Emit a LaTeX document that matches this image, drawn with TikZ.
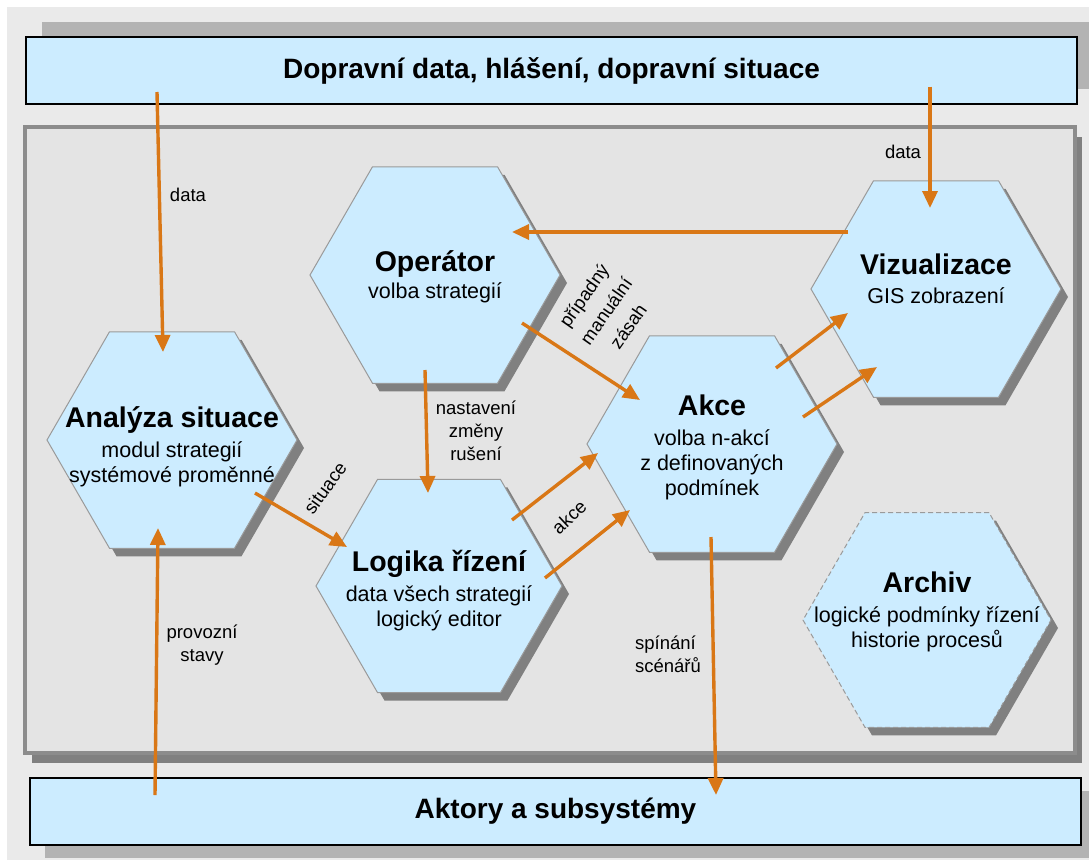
\documentclass[tikz,border=0pt]{standalone}
\usepackage{fontspec}
\setmainfont{Liberation Sans}
\usetikzlibrary{shapes.geometric,arrows.meta,shadows,calc}
\definecolor{hexblue}{HTML}{CCECFF}
\definecolor{arrowor}{HTML}{D97716}
\definecolor{bglight}{HTML}{EAEAEA}
\definecolor{panelfill}{HTML}{E4E4E4}
\definecolor{panelline}{HTML}{8C8C8C}
\definecolor{darkshadow}{HTML}{808080}
\definecolor{lightshadow}{HTML}{B3B3B3}
\definecolor{hexline}{HTML}{9A9A9A}
\newcommand\hextitle[1]{{\fontsize{28.5}{30}\selectfont\bfseries #1}}
\begin{document}
\begin{tikzpicture}[x=1pt,y=-1pt,
  hexagon/.style={regular polygon, regular polygon sides=6, minimum size=250pt,
    inner sep=0pt, fill=hexblue, draw=hexline, line width=1pt,
    drop shadow={shadow xshift=7pt, shadow yshift=-8pt, fill=darkshadow, opacity=1}},
  hextext/.style={align=center, font=\fontsize{21.5}{25}\selectfont, inner sep=0pt},
  bigbox/.style={rectangle, minimum width=1051pt, minimum height=67pt, inner sep=0pt,
    fill=hexblue, draw=black, line width=1.2pt, font=\fontsize{28}{34}\selectfont\bfseries},
  conn/.style={draw=arrowor, line width=3.4pt, -{Triangle[length=17pt,width=15pt]}},
  elabel/.style={font=\fontsize{18.5}{23}\selectfont, align=center, inner sep=0pt}]
\useasboundingbox (0,0) rectangle (1089,863);
\fill[white] (0,0) rectangle (1089,863);
\fill[bglight] (7,7) rectangle (1089,860);

% panel
\node[rectangle, minimum width=1050pt, minimum height=626pt, inner sep=0pt,
  fill=panelfill, draw=panelline, line width=4pt,
  drop shadow={shadow xshift=7pt, shadow yshift=-10pt, fill=darkshadow, opacity=1}]
  (panel) at (550,440) {};

% top and bottom boxes
\node[bigbox, drop shadow={shadow xshift=16pt, shadow yshift=15pt, fill=lightshadow, opacity=1}]
  (topbox) at (551.5,70.5) {Dopravní data, hlášení, dopravní situace};
\node[bigbox, drop shadow={shadow xshift=15pt, shadow yshift=-13pt, fill=lightshadow, opacity=1}]
  (botbox) at (555.5,811.5) {Aktory a subsystémy};

% hexagons
\node[hexagon] (ana) at (172,440) {};
\node[hexagon] (op) at (435,275) {};
\node[hexagon, minimum size=246pt] (log) at (439,586) {};
\node[hexagon] (akce) at (712,444) {};
\node[hexagon] (viz) at (936,289) {};
\node[hexagon, minimum size=248pt, dash pattern=on 5pt off 3pt] (arch) at (927,620) {};

% hexagon texts
\node[hextext] (anaT) at ($(ana.center)+(0,7)$) {\hextitle{Analýza situace}\\[5pt] modul strategií\\ systémové proměnné};
\node[hextext] (opT) at ($(op.center)+(0,2)$) {\hextitle{Operátor}\\[2pt] volba strategií};
\node[hextext] (logT) at ($(log.center)+(0,5)$) {\hextitle{Logika řízení}\\[5pt] data všech strategií\\ logický editor};
\node[hextext] (akceT) at ($(akce.center)+(0,3)$) {\hextitle{Akce}\\[5pt] volba n-akcí\\ z definovaných\\ podmínek};
\node[hextext] (vizT) at ($(viz.center)+(0,-10)$) {\hextitle{Vizualizace}\\[4pt] GIS zobrazení};
\node[hextext] (archT) at ($(arch.center)+(0,-8)$) {\hextitle{Archiv}\\[5pt] logické podmínky řízení\\ historie procesů};

% connectors
\draw[conn] ($(topbox.center)+(-394.5,21.5)$) -- ($(ana.center)+(-9,-88)$);
\draw[conn] ($(topbox.center)+(378.5,16)$) -- ($(viz.center)+(-6,-81)$);
\draw[conn] ($(viz.center)+(-88,-57)$) -- ($(op.center)+(77,-43)$);
\draw[conn] ($(op.center)+(87,48)$) -- ($(akce.center)+(-72,-44)$);
\draw[conn] ($(op.center)+(-10,95)$) -- ($(log.center)+(-11,-93)$);
\draw[conn] ($(ana.center)+(83,53)$) -- ($(log.center)+(-92,-39)$);
\draw[conn] ($(log.center)+(73,-66)$) -- ($(akce.center)+(-114,9)$);
\draw[conn] ($(log.center)+(106,-8)$) -- ($(akce.center)+(-82,66)$);
\draw[conn] ($(akce.center)+(64,-76)$) -- ($(viz.center)+(-88,24)$);
\draw[conn] ($(akce.center)+(91,-27)$) -- ($(viz.center)+(-59,78)$);
\draw[conn] ($(akce.center)+(-1,93)$) -- ($(botbox.center)+(160.5,-16.5)$);
\draw[conn] ($(botbox.center)+(-400.5,-16.5)$) -- ($(ana.center)+(-14,88)$);

% connector labels
\node[elabel] (lData1) at (188,195) {data};
\node[elabel] (lData2) at (903,152) {data};
\node[elabel] (lNast) at (476,431) {nastavení\\ změny\\ rušení};
\node[elabel] (lProv) at (202,645) {provozní\\ stavy};
\node[elabel, align=left] (lSpin) at (668,654) {spínání\\ scénářů};
\node[elabel, font=\fontsize{18.5}{27}\selectfont, rotate=55] (lZasah) at (606,311) {případný\\ manuální\\ zásah};
\node[elabel, rotate=54] (lSit) at (325,488) {situace};
\node[elabel, rotate=43] (lAkce) at (569,517) {akce};
\end{tikzpicture}
\end{document}
